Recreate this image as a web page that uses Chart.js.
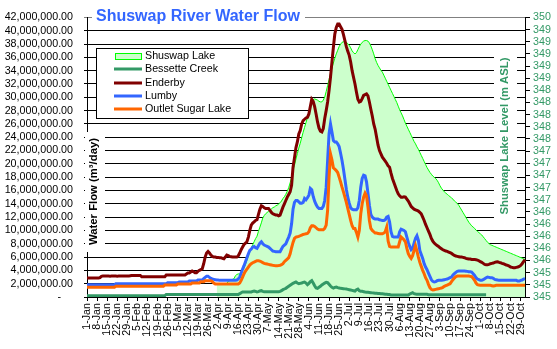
<!DOCTYPE html>
<html><head><meta charset="utf-8">
<script src="https://cdn.jsdelivr.net/npm/chart.js@4.4.1/dist/chart.umd.min.js"></script>
<style>html,body{margin:0;padding:0;background:#fff}canvas{display:block}</style>
</head><body>
<canvas id="c" width="557" height="349"></canvas>
<script>
const chartTitle = "Shuswap River Water Flow";
const leftAxisTitle = "Water Flow (m³/day)";
const rightAxisTitle = "Shuswap Lake Level (m ASL)";
const seriesNames = ["Shuswap Lake", "Bessette Creek", "Enderby", "Lumby", "Outlet Sugar Lake"];

const monthAbbr = ["Jan","Feb","Mar","Apr","May","Jun","Jul","Aug","Sep","Oct","Nov","Dec"];
const monthLengths = [31,28,31,30,31,30,31,31,30,31,30,31];
const dayCount = 305;
const labelEvery = 7;
const categories = [];
for (let m = 0; categories.length < dayCount; m++) {
  for (let d = 1; d <= monthLengths[m] && categories.length < dayCount; d++) categories.push(d + "-" + monthAbbr[m]);
}

const flowTicksMillions = [0,2,4,6,8,10,12,14,16,18,20,22,24,26,28,30,32,34,36,38,40,42];
const lakeTicks = [345.0,345.2,345.4,345.6,345.8,346.0,346.2,346.4,346.6,346.8,347.0,347.2,347.4,347.6,347.8,348.0,348.2,348.4,348.6,348.8,349.0,349.2,349.4,349.6];

// Shuswap Lake level (m ASL), daily from index 90 (1-Apr)
const lakeStartIndex = 90;
const shuswapLake = [
345.22,345.22,345.22,345.22,345.22,345.22,345.22,345.22,345.26,345.27,
345.28,345.29,345.3,345.35,345.37,345.38,345.38,345.4,345.44,345.48,
345.54,345.61,345.68,345.75,345.8,345.86,345.91,345.96,346.0,346.08,
346.15,346.22,346.3,346.34,346.37,346.39,346.41,346.43,346.45,346.47,
346.48,346.5,346.51,346.53,346.55,346.58,346.62,346.65,346.69,346.74,
346.8,346.88,346.97,347.08,347.17,347.27,347.36,347.45,347.53,347.62,
347.71,347.79,347.87,347.95,348.04,348.12,348.2,348.25,348.26,348.25,
348.24,348.22,348.21,348.21,348.24,348.29,348.38,348.48,348.58,348.68,
348.77,348.85,348.93,349.0,349.06,349.12,349.16,349.19,349.2,349.21,
349.19,349.17,349.14,349.1,349.05,349.02,349.0,349.02,349.07,349.12,
349.16,349.19,349.21,349.22,349.22,349.21,349.18,349.13,349.07,349.0,
348.92,348.86,348.81,348.77,348.73,348.7,348.65,348.6,348.55,348.5,
348.45,348.4,348.35,348.3,348.25,348.2,348.14,348.08,348.03,347.98,
347.92,347.86,347.81,347.76,347.71,347.66,347.61,347.56,347.52,347.47,
347.43,347.38,347.33,347.28,347.23,347.18,347.13,347.09,347.05,347.02,
346.99,346.97,346.95,346.92,346.88,346.83,346.79,346.76,346.73,346.71,
346.69,346.67,346.65,346.63,346.61,346.58,346.56,346.54,346.51,346.47,
346.43,346.39,346.35,346.31,346.27,346.23,346.2,346.17,346.15,346.13,
346.1,346.08,346.06,346.04,346.02,345.99,345.96,345.93,345.9,345.88,
345.86,345.85,345.84,345.83,345.82,345.81,345.8,345.79,345.78,345.77,
345.76,345.75,345.74,345.73,345.72,345.71,345.7,345.69,345.68,345.67,
345.66,345.65,345.64,345.63,345.62
];

// Flows in millions of m³/day, daily from 1-Jan
const bessetteCreekM = [
0.2,0.2,0.2,0.2,0.2,0.2,0.2,0.2,0.2,0.2,
0.2,0.2,0.2,0.2,0.2,0.2,0.2,0.2,0.2,0.2,
0.2,0.2,0.2,0.2,0.2,0.2,0.2,0.2,0.2,0.2,
0.2,0.2,0.2,0.2,0.2,0.2,0.2,0.2,0.2,0.2,
0.2,0.2,0.2,0.2,0.2,0.2,0.2,0.2,0.2,0.2,
0.2,0.2,0.2,0.2,0.2,0.38,0.38,0.38,0.38,0.38,
0.38,0.38,0.38,0.38,0.38,0.38,0.38,0.38,0.38,0.38,
0.38,0.38,0.38,0.38,0.38,0.38,0.38,0.38,0.38,0.38,
0.38,0.38,0.38,0.38,0.38,0.38,0.38,0.38,0.38,0.38,
0.38,0.38,0.38,0.38,0.38,0.38,0.38,0.38,0.38,0.38,
0.38,0.38,0.38,0.38,0.38,0.38,0.5,0.65,0.76,0.76,
0.76,0.76,0.76,0.76,0.76,0.85,0.9,0.85,0.76,0.8,
0.9,0.95,0.85,0.8,0.78,0.78,0.78,0.78,0.78,0.78,
0.78,0.78,0.78,0.78,0.85,0.95,1.1,1.2,1.3,1.45,
1.6,1.75,1.9,2.05,2.15,2.25,2.1,2.0,2.05,2.1,
2.2,2.25,2.1,1.85,2.05,2.3,2.45,2.1,1.7,1.35,
1.3,1.45,1.6,1.8,1.95,2.1,2.2,2.15,1.9,1.65,
1.45,1.35,1.45,1.5,1.4,1.35,1.3,1.28,1.25,1.22,
1.2,1.15,1.1,1.05,1.0,0.95,0.9,1.1,1.2,0.95,
0.86,0.85,0.8,0.75,0.72,0.7,0.68,0.65,0.62,0.6,
0.58,0.56,0.54,0.52,0.5,0.48,0.45,0.42,0.4,0.38,
0.36,0.3,0.3,0.3,0.3,0.3,0.3,0.3,0.3,0.3,
0.3,0.3,0.3,0.3,0.45,0.55,0.65,0.5,0.45,0.4,
0.4,0.4,0.4,0.4,0.4,0.4,0.4,0.35,0.35,0.35,
0.35,0.35,0.35,0.35,0.35,0.35,0.35,0.35,0.35,0.35,
0.35,0.35,0.35,0.35,0.35,0.35,0.35,0.35,0.35,0.35,
0.35,0.35,0.35,0.35,0.35,0.35,0.35,0.35,0.35,0.35,
0.35,0.35,0.35,0.35,0.35,0.35,0.35,0.35
];

const enderbyM = [
2.84,2.84,2.84,2.84,2.84,2.84,2.84,2.84,2.84,2.9,
3.1,3.14,3.14,3.15,3.14,3.14,3.13,3.14,3.14,3.14,
3.14,3.13,3.14,3.14,3.14,3.14,3.14,3.14,3.14,3.14,
3.2,3.24,3.24,3.24,3.24,3.24,3.24,3.24,3.04,3.04,
3.04,3.04,3.05,3.04,3.04,3.04,3.04,3.03,3.04,3.04,
3.04,3.04,3.04,3.04,3.04,3.3,3.3,3.3,3.3,3.3,
3.3,3.32,3.3,3.3,3.3,3.3,3.3,3.3,3.3,3.45,
3.6,3.6,3.75,3.9,3.8,3.65,3.65,3.85,4.0,4.1,
4.25,5.0,6.0,6.6,6.83,6.6,6.3,6.1,6.0,6.0,
5.95,5.95,5.9,5.9,5.8,5.75,6.0,6.3,6.2,6.1,
6.05,6.0,6.0,6.0,6.0,6.2,6.6,7.1,7.5,7.9,
8.1,8.3,9.0,10.0,10.8,11.1,11.3,11.5,11.6,12.4,
13.2,13.7,13.6,13.4,13.3,13.3,13.3,13.0,12.7,12.5,
12.4,12.3,12.3,12.2,12.3,12.9,13.5,14.0,14.5,15.0,
15.4,15.8,16.8,19.5,20.9,22.4,23.3,24.5,25.0,26.0,
26.5,26.7,26.9,27.0,27.5,28.6,29.7,29.4,28.6,27.5,
26.3,25.4,24.9,24.8,25.3,26.8,28.0,29.3,31.0,33.0,
35.3,37.5,39.5,40.5,41.0,41.0,40.6,40.2,39.4,38.5,
37.6,36.9,36.3,35.3,34.0,33.0,32.0,30.8,29.7,29.3,
29.4,29.8,30.3,30.4,30.5,30.2,29.3,28.2,27.2,26.0,
25.2,24.0,22.8,22.0,21.5,21.0,20.7,20.4,20.1,19.7,
19.5,18.6,17.8,17.2,16.6,16.0,15.5,15.2,15.0,15.0,
15.05,15.0,14.7,14.4,14.0,13.6,13.4,13.2,13.1,13.0,
12.9,12.7,12.5,12.0,11.5,10.9,10.4,9.9,9.4,8.8,
8.4,8.1,7.9,7.75,7.6,7.4,7.25,7.1,7.0,6.9,
6.85,6.75,6.65,6.55,6.4,6.25,6.15,6.1,6.05,6.0,
6.0,5.95,5.9,5.8,5.75,5.7,5.7,5.65,5.65,5.65,
5.6,5.55,5.45,5.3,5.2,5.05,4.9,4.85,4.85,4.9,
5.0,5.05,5.1,5.2,5.25,5.3,5.2,5.15,5.05,5.0,
4.9,4.8,4.75,4.65,4.5,4.45,4.4,4.4,4.45,4.5,
4.6,4.75,5.0,5.3,5.6
];

const lumbyM = [
1.85,1.85,1.85,1.85,1.85,1.85,1.85,1.85,1.85,1.85,
1.85,1.85,1.85,1.85,1.85,1.85,1.85,1.85,1.85,1.85,
2.0,2.0,2.0,2.0,2.0,2.0,2.0,2.0,2.0,2.0,
2.0,2.0,2.0,2.0,2.0,2.0,2.0,2.0,2.0,2.0,
2.0,2.0,2.0,2.0,2.0,2.0,2.0,2.0,2.0,2.0,
2.0,2.0,2.0,2.0,2.0,2.0,2.15,2.15,2.15,2.15,
2.15,2.15,2.15,2.15,2.25,2.25,2.25,2.25,2.25,2.25,
2.25,2.4,2.4,2.4,2.4,2.4,2.4,2.55,2.55,2.55,
2.55,2.75,2.95,3.1,3.1,2.95,2.8,2.7,2.65,2.6,
2.55,2.55,2.5,2.5,2.5,2.5,2.5,2.5,2.5,2.5,
2.5,2.5,2.5,2.5,2.55,2.7,3.0,3.6,4.2,4.7,
5.3,5.9,6.5,7.0,7.2,7.5,7.6,7.4,7.3,7.7,
8.1,8.3,8.0,7.8,7.7,7.6,7.5,7.3,7.1,6.9,
6.85,6.8,6.8,6.8,6.8,7.2,7.6,7.8,8.0,8.5,
9.0,9.6,11.0,13.2,14.2,14.5,14.5,14.3,14.1,14.1,
14.2,14.8,14.6,14.9,15.3,16.3,16.1,15.1,14.4,13.9,
13.5,13.3,13.3,13.3,13.6,14.5,16.5,20.5,24.5,26.0,
24.8,23.5,23.3,23.3,23.0,22.6,21.6,20.5,19.2,17.7,
16.2,15.0,14.1,13.4,13.2,13.1,13.1,13.1,13.4,14.5,
16.5,17.8,18.3,18.2,17.3,15.6,13.8,12.4,12.0,11.8,
11.7,11.7,11.7,11.6,11.55,11.5,11.5,11.6,12.0,12.1,
11.3,9.8,9.1,9.0,9.0,9.0,9.0,9.8,10.2,10.1,
10.0,9.8,9.0,8.2,7.6,7.1,7.3,8.1,8.8,9.2,
8.5,7.0,6.4,5.8,5.0,4.5,4.1,3.6,3.1,2.6,
2.35,2.25,2.3,2.45,2.5,2.5,2.5,2.55,2.6,2.65,
2.7,2.8,2.9,3.0,3.3,3.5,3.7,3.85,3.9,3.9,
3.9,3.9,3.9,3.88,3.85,3.8,3.78,3.74,3.5,3.24,
2.9,2.7,2.6,2.5,2.5,2.6,2.75,2.9,3.0,2.95,
2.9,2.9,2.8,2.65,2.6,2.55,2.5,2.5,2.5,2.5,
2.5,2.5,2.5,2.5,2.5,2.5,2.5,2.5,2.5,2.4,
2.4,2.5,2.55,2.7,2.75
];

const outletSugarLakeM = [
1.45,1.45,1.45,1.45,1.45,1.45,1.45,1.45,1.45,1.45,
1.45,1.45,1.45,1.45,1.45,1.45,1.45,1.45,1.45,1.45,
1.62,1.62,1.62,1.62,1.62,1.62,1.62,1.62,1.62,1.62,
1.62,1.62,1.62,1.62,1.62,1.62,1.62,1.62,1.62,1.62,
1.62,1.62,1.62,1.62,1.62,1.62,1.62,1.62,1.62,1.62,
1.62,1.62,1.62,1.62,1.8,1.8,1.8,1.8,1.8,1.8,
1.8,1.8,1.8,1.95,1.95,1.95,1.95,1.95,1.95,1.95,
1.95,1.95,1.95,2.1,2.1,2.1,2.1,2.1,2.1,2.3,
2.3,2.3,2.45,2.45,2.45,2.45,2.45,2.3,2.1,1.95,
1.95,1.95,1.95,1.95,1.95,1.95,1.95,1.95,1.95,1.95,
1.95,1.95,1.95,1.95,1.95,1.95,2.1,2.5,3.0,3.5,
3.9,4.2,4.5,4.8,5.0,5.15,5.25,5.35,5.45,5.45,
5.4,5.3,5.15,5.05,5.0,4.95,4.9,4.85,4.8,4.75,
4.72,4.7,4.7,4.72,4.75,4.85,5.0,5.3,5.5,5.7,
5.9,6.5,7.4,8.2,8.8,9.0,9.05,9.1,9.2,9.3,
9.4,9.45,9.5,9.55,9.8,10.4,10.7,10.7,10.6,10.4,
10.2,10.1,10.1,10.1,10.1,10.3,10.8,13.0,18.0,21.5,
20.6,19.4,19.2,19.0,18.7,18.0,17.3,16.5,15.8,15.0,
14.2,13.3,12.4,11.5,10.7,10.3,10.3,9.7,9.0,10.0,
12.5,14.0,15.0,15.6,15.2,13.5,11.5,10.3,10.0,9.8,
9.6,9.6,9.55,9.5,9.5,9.5,9.6,9.8,10.5,8.4,
7.6,7.5,7.5,7.5,7.5,7.5,7.5,8.3,9.0,8.8,
8.6,8.3,7.3,6.5,6.1,5.8,6.2,7.0,7.7,6.9,
6.0,5.2,4.6,4.0,3.5,2.9,2.5,1.9,1.4,1.15,
1.05,1.1,1.15,1.2,1.25,1.3,1.35,1.45,1.6,1.7,
1.8,1.9,2.0,2.3,2.6,2.85,3.05,3.15,3.15,3.15,
3.15,3.15,3.15,3.15,3.15,3.15,3.1,3.05,2.8,2.5,
2.1,1.85,1.8,1.75,1.75,1.75,1.75,1.75,1.75,1.75,
1.75,1.7,1.65,1.7,1.75,1.75,1.75,1.75,1.75,1.75,
1.75,1.75,1.75,1.75,1.75,1.75,1.75,1.75,1.75,1.75,
1.75,1.75,1.75,1.75,1.75
];

const seriesColors = {lakeLine: "#00FF00", lakeFill: "#CCFFCC", bessette: "#339966", enderby: "#800000", lumby: "#3366FF", outlet: "#FF6600"};
const FONT = '"Liberation Sans", Arial, Helvetica, sans-serif';
const TICK_SIZE = 10.7;

function padTo(arr, start) {
  return categories.map((c, i) => (i >= start && i - start < arr.length) ? arr[i - start] : null);
}
function formatFlow(v) {
  if (v === 0) return "-    ";
  const n = Math.round(v * 1000000).toString().replace(/\B(?=(\d{3})+(?!\d))/g, ",");
  return n + ".00";
}

const decor = {
  id: "excelDecor",
  afterDraw(chart) {
    const ctx = chart.ctx;
    ctx.save();
    // title
    ctx.fillStyle = "#fff";
    ctx.fillRect(92, 6, 213, 19);
    ctx.font = "bold 16px " + FONT;
    ctx.fillStyle = "#3366FF";
    ctx.textBaseline = "alphabetic";
    ctx.textAlign = "left";
    ctx.fillText(chartTitle, 96, 21);
    // left axis title
    ctx.fillStyle = "#fff";
    ctx.fillRect(85, 132, 20, 120);
    ctx.save();
    ctx.translate(94, 191.5);
    ctx.rotate(-Math.PI / 2);
    ctx.font = "bold 11.3px " + FONT;
    ctx.fillStyle = "#000";
    ctx.textAlign = "center";
    ctx.textBaseline = "middle";
    ctx.fillText(leftAxisTitle, 0, 0);
    ctx.restore();
    // right axis title
    ctx.fillStyle = "#fff";
    ctx.fillRect(494, 51, 23, 170);
    ctx.save();
    ctx.translate(505, 136);
    ctx.rotate(-Math.PI / 2);
    ctx.font = "bold 11.3px " + FONT;
    ctx.fillStyle = "#339966";
    ctx.textAlign = "center";
    ctx.textBaseline = "middle";
    ctx.fillText(rightAxisTitle, 0, 0);
    ctx.restore();
    // legend
    ctx.fillStyle = "#fff";
    ctx.fillRect(96.5, 48.5, 152, 70);
    ctx.strokeStyle = "#000";
    ctx.lineWidth = 1;
    ctx.strokeRect(96.5, 48.5, 152, 70);
    const ys = [55.7, 69, 82.6, 96, 109.3];
    const cols = [null, seriesColors.bessette, seriesColors.enderby, seriesColors.lumby, seriesColors.outlet];
    ctx.font = TICK_SIZE + "px " + FONT;
    ctx.textAlign = "left";
    ctx.textBaseline = "middle";
    seriesNames.forEach((name, k) => {
      const y = ys[k];
      if (k === 0) {
        ctx.fillStyle = seriesColors.lakeFill;
        ctx.fillRect(115.5, 53.5, 26, 6);
        ctx.strokeStyle = seriesColors.lakeLine;
        ctx.strokeRect(115.5, 53.5, 26, 6);
      } else {
        ctx.fillStyle = cols[k];
        ctx.fillRect(114, Math.round(y) - 1.5, 28, 3);
      }
      ctx.fillStyle = "#000";
      ctx.fillText(name, 145, y);
    });
    ctx.restore();
  }
};

new Chart(document.getElementById("c"), {
  type: "line",
  data: {
    labels: categories,
    datasets: [
      {label: seriesNames[4], data: padTo(outletSugarLakeM, 0), yAxisID: "y", borderColor: seriesColors.outlet, borderWidth: 3, pointRadius: 0, fill: false, order: 1, tension: 0},
      {label: seriesNames[3], data: padTo(lumbyM, 0), yAxisID: "y", borderColor: seriesColors.lumby, borderWidth: 3, pointRadius: 0, fill: false, order: 2, tension: 0},
      {label: seriesNames[2], data: padTo(enderbyM, 0), yAxisID: "y", borderColor: seriesColors.enderby, borderWidth: 3, pointRadius: 0, fill: false, order: 3, tension: 0},
      {label: seriesNames[1], data: padTo(bessetteCreekM, 0), yAxisID: "y", borderColor: seriesColors.bessette, borderWidth: 3, pointRadius: 0, fill: false, order: 4, tension: 0},
      {label: seriesNames[0], data: padTo(shuswapLake, lakeStartIndex), yAxisID: "y2", borderColor: seriesColors.lakeLine, backgroundColor: seriesColors.lakeFill, borderWidth: 1, pointRadius: 0, fill: "start", order: 5, tension: 0}
    ]
  },
  options: {
    responsive: false,
    animation: false,
    events: [],
    layout: {padding: {top: 16, left: 0, right: 0, bottom: 0}},
    plugins: {legend: {display: false}, tooltip: {enabled: false}, title: {display: false}},
    scales: {
      x: {
        type: "category",
        offset: false,
        grid: {display: true, drawOnChartArea: false, drawTicks: true, tickLength: 4, color: "#000", tickColor: "#000"},
        border: {display: true, color: "#000", width: 1},
        ticks: {
          autoSkip: false, maxRotation: 90, minRotation: 90, padding: 2, color: "#000",
          font: {family: FONT, size: TICK_SIZE},
          callback: function (val, idx) { return idx % labelEvery === 0 ? this.getLabelForValue(val) : null; }
        },
        afterFit: s => { s.height = 52; }
      },
      y: {
        position: "left", min: 0, max: 42,
        afterBuildTicks: s => { s.ticks = flowTicksMillions.map(v => ({value: v})); },
        grid: {color: c => (c.tick && c.tick.value === 42) ? "#808080" : "#000", tickColor: c => (c.tick && c.tick.value === 42) ? "#808080" : "#000", lineWidth: 1, drawTicks: true, tickLength: 3},
        border: {display: true, color: "#000", width: 1},
        ticks: {autoSkip: false, padding: 11, color: "#000", font: {family: FONT, size: TICK_SIZE}, callback: v => formatFlow(v)},
        afterFit: s => { s.width = 87; }
      },
      y2: {
        position: "right", min: 345, max: 349.6,
        afterBuildTicks: s => { s.ticks = lakeTicks.map(v => ({value: v})); },
        grid: {drawOnChartArea: false, drawTicks: true, tickLength: 5, color: "#000", tickColor: "#000"},
        border: {display: true, color: "#000", width: 1},
        ticks: {autoSkip: false, padding: 3, color: "#339966", font: {family: FONT, size: TICK_SIZE}, callback: v => String(Math.round(v))},
        afterFit: s => { s.width = 32; }
      }
    }
  },
  plugins: [decor]
});
</script>
</body></html>
